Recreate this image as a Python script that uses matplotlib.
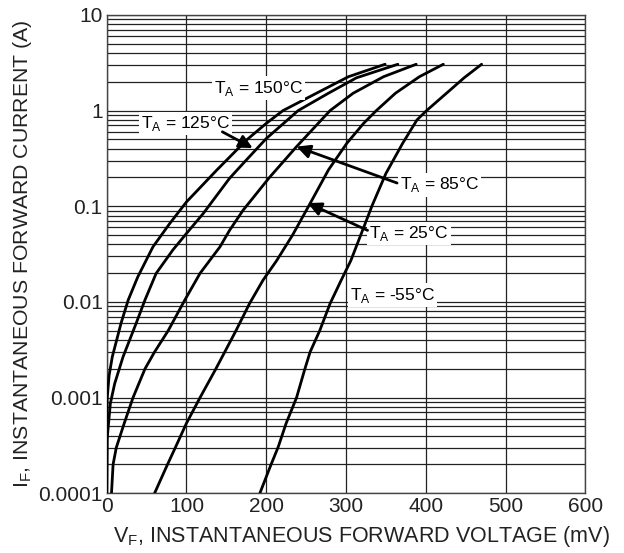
import matplotlib
matplotlib.use("Agg")
import matplotlib.pyplot as plt
from matplotlib.ticker import FixedLocator, LogLocator, NullFormatter
import numpy as np

plt.rcParams["font.family"] = ["Liberation Sans", "DejaVu Sans"]

# ---- curve data (mV, A) ----------------------------------------------------
vf_150 = [0, 0.3, 0.5, 3, 7, 18, 27, 39, 58, 79, 100, 138, 175, 200, 221, 263, 303, 349]
if_150 = [1e-4, 3e-4, 9.6e-4, 0.0017, 0.00267, 0.006, 0.0105, 0.0183, 0.0377,
          0.066, 0.111, 0.239, 0.49, 0.735, 1.0, 1.52, 2.26, 3.05]

vf_125 = [0, 0.4, 4.6, 10, 20.5, 37, 48, 62, 83, 100, 121, 154, 171, 200, 240, 278, 313, 365]
if_125 = [1e-4, 3.6e-4, 8.7e-4, 0.0014, 0.00267, 0.006, 0.0105, 0.0199, 0.035,
          0.052, 0.084, 0.196, 0.28, 0.51, 1.0, 1.52, 2.2, 3.05]

vf_85 = [6, 8, 12, 22, 33, 48, 60, 77, 98, 117, 142, 154, 171, 204, 238, 280, 309, 347, 388]
if_85 = [1e-4, 2e-4, 3e-4, 5.4e-4, 0.001, 0.002, 0.003, 0.005, 0.0105, 0.0199,
         0.0377, 0.056, 0.091, 0.2, 0.42, 1.0, 1.52, 2.26, 3.05]

vf_25 = [60, 75, 86, 100, 117, 136, 148, 162, 179, 196, 213, 233, 255, 278, 301, 322,
         338, 362, 392, 422]
if_25 = [1e-4, 1.9e-4, 3e-4, 5.4e-4, 0.001, 0.00194, 0.003, 0.005, 0.0096, 0.0169,
         0.027, 0.05, 0.107, 0.24, 0.455, 0.735, 1.0, 1.52, 2.26, 3.05]

vf_m55 = [192, 205, 215, 225, 238, 248, 255, 267, 280, 294, 306, 320, 333, 350, 371,
          389, 401, 426, 448, 470]
if_m55 = [1e-4, 1.9e-4, 3.05e-4, 5.4e-4, 0.001, 0.00194, 0.003, 0.005, 0.0096, 0.0169,
          0.027, 0.054, 0.103, 0.22, 0.455, 0.80, 1.0, 1.52, 2.2, 3.05]

x_ticks = [0, 100, 200, 300, 400, 500, 600]
y_ticks = [1e-4, 1e-3, 1e-2, 1e-1, 1, 10]
y_tick_labels = ["0.0001", "0.001", "0.01", "0.1", "1", "10"]

fig = plt.figure(figsize=(6.24, 5.53), dpi=100)
ax = fig.add_axes([0.171, 0.108, 0.767, 0.865])

for vf, i_f in [(vf_150, if_150), (vf_125, if_125), (vf_85, if_85),
                (vf_25, if_25), (vf_m55, if_m55)]:
    ax.plot(vf, i_f, color="black", lw=2.0, solid_capstyle="round",
            solid_joinstyle="round", zorder=3)

ax.set_yscale("log")
ax.set_xlim(0, 600)
ax.set_ylim(1e-4, 10)

ax.xaxis.set_major_locator(FixedLocator(x_ticks))
ax.set_yticks(y_ticks)
ax.set_yticklabels(y_tick_labels)
ax.yaxis.set_minor_locator(LogLocator(base=10, subs=np.arange(2, 10)))
ax.yaxis.set_minor_formatter(NullFormatter())
ax.tick_params(which="both", length=0, labelsize=15, colors="#222222", pad=3)
ax.grid(True, which="major", axis="x", color="#222222", lw=0.9)
ax.grid(True, which="both", axis="y", color="#222222", lw=0.9)
for s in ax.spines.values():
    s.set_color("#444444")
    s.set_linewidth(1.0)

ax.set_xlabel("V$_\\mathregular{F}$, INSTANTANEOUS FORWARD VOLTAGE (mV)",
              fontsize=15.5, color="#222222")
ax.set_ylabel("I$_\\mathregular{F}$, INSTANTANEOUS FORWARD CURRENT (A)",
              fontsize=15.3, color="#222222")
ax.xaxis.set_label_coords(0.532, -0.064)
ax.yaxis.set_label_coords(-0.152, 0.5)

box = dict(facecolor="white", edgecolor="none", pad=1.5)
arrow = dict(arrowstyle="-|>", color="black", lw=2.0, mutation_scale=20,
             shrinkA=0, shrinkB=0)

labels = [("T$_\\mathregular{A}$ = 150°C", 190, 1.72),
          ("T$_\\mathregular{A}$ = 125°C", 99, 0.74),
          ("T$_\\mathregular{A}$ = 85°C", 417, 0.167),
          ("T$_\\mathregular{A}$ = 25°C", 379, 0.052),
          ("T$_\\mathregular{A}$ = -55°C", 358, 0.0118)]
for txt, x, y in labels:
    ax.text(x, y, txt, fontsize=12.5, ha="center", va="center", bbox=box, zorder=4)

# arrows: (tail, tip)
arrows = [((145, 0.60), (183, 0.406)),
          ((364, 0.175), (238, 0.42)),
          ((327, 0.056), (252, 0.108))]
for tail, tip in arrows:
    ax.annotate("", xy=tip, xytext=tail, arrowprops=arrow, zorder=5)

fig.savefig("out.png", dpi=100)
